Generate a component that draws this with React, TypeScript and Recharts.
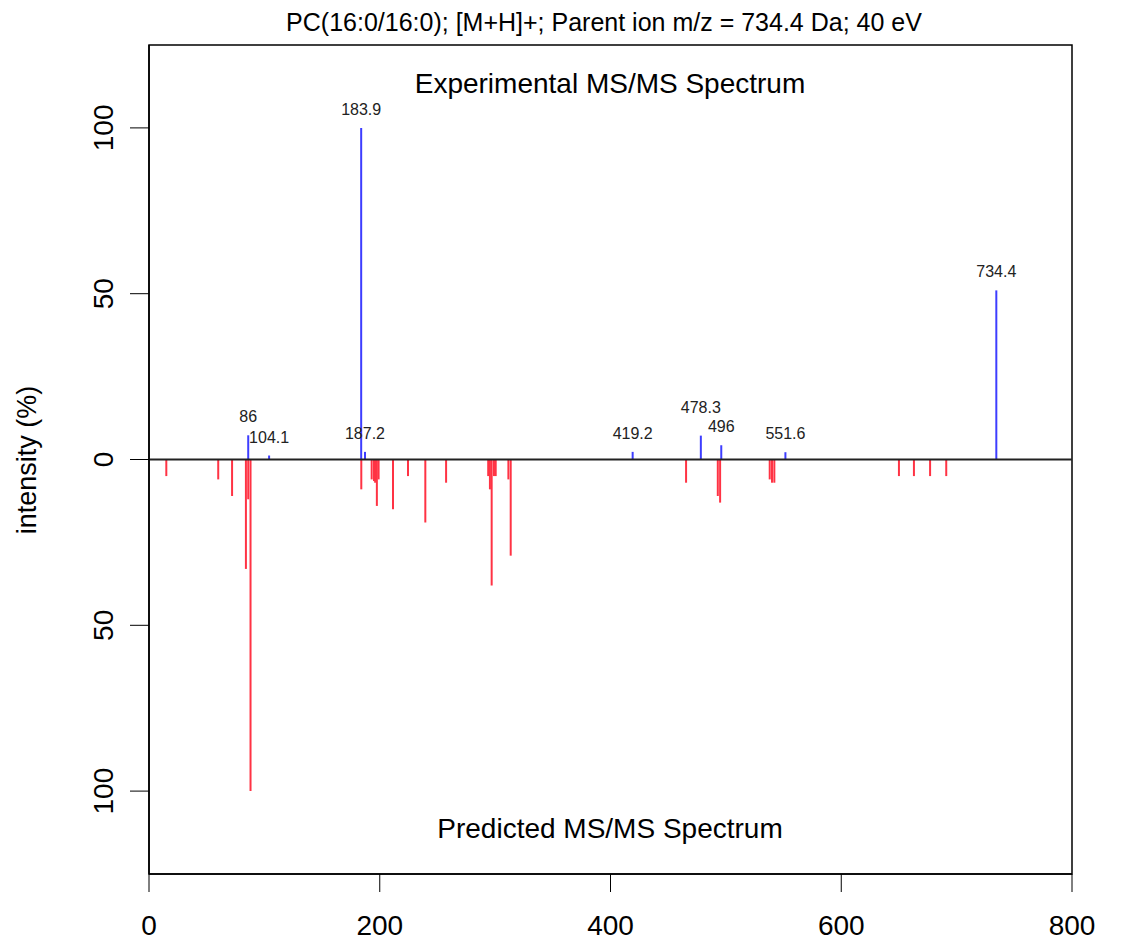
import React from "react";
import {
  ComposedChart, Scatter, ErrorBar, XAxis, YAxis, ReferenceLine, ReferenceArea,
} from "recharts";

// experimental peaks (m/z, relative intensity %)
const expMz = [86, 104.1, 183.9, 187.2, 419.2, 478.3, 496, 551.6, 734.4];
const expInt = [7.3, 1.2, 100, 2.3, 2.3, 7.2, 4.3, 2.2, 51];
const expLabels = ["86", "104.1", "183.9", "187.2", "419.2", "478.3", "496", "551.6", "734.4"];

// predicted peaks, drawn downward
const predMz = [
  15, 60, 72, 84, 86, 88, 184, 193, 195, 196, 197.5, 199, 211.5, 224.5, 239.5, 257.5,
  294, 295.5, 297, 299, 300.5, 311.5, 313.5, 465.5, 493, 495, 538, 540, 542,
  650, 663, 677, 691,
];
const predInt = [
  5, 6, 11, 33, 12, 100, 9, 6, 6.5, 7, 14, 6, 15, 5, 19, 7,
  5, 9, 38, 5, 5, 6, 29, 7, 11, 13, 6, 7, 7,
  5, 5, 5, 5,
];

const xTicks = [0, 200, 400, 600, 800];
const yTicks = [-100, -50, 0, 50, 100];

const title = "PC(16:0/16:0); [M+H]+; Parent ion m/z = 734.4 Da; 40 eV";

const FONT = "'Liberation Sans', Arial, Helvetica, sans-serif";
const BLUE = "#3d3dff";
const RED = "#ff3344";

const W = 1138;
const H = 951;

const expStems = expMz.map((mz, i) => ({ mz, base: 0, err: [0, expInt[i]] }));
const predStems = predMz.map((mz, i) => ({ mz, base: 0, err: [predInt[i], 0] }));

// crude overlap check: a label that sits close to its right neighbour gets lifted
const expTops = expMz.map((mz, i) => {
  const next = i + 1 < expMz.length ? i + 1 : -1;
  const clash =
    next >= 0 &&
    expMz[next] - mz < 30 &&
    Math.abs(expInt[next] - expInt[i]) < 4.8 &&
    expInt[i] >= expInt[next];
  return { mz, top: expInt[i], label: expLabels[i], lift: clash };
});

const Empty = () => <g />;

const PeakLabel = (p: any) => (
  <text
    x={p.cx}
    y={p.cy - 13 - (p.payload.lift ? 10 : 0)}
    textAnchor="middle"
    fontSize={16}
    fill="#222"
    fontFamily={FONT}
  >
    {p.payload.label}
  </text>
);

const YTick = (p: any) => (
  <text
    transform={`translate(${p.x - 17},${p.y}) rotate(-90)`}
    textAnchor="middle"
    fontSize={28}
    fill="#000"
    fontFamily={FONT}
  >
    {Math.abs(p.payload.value)}
  </text>
);

export default function App() {
  return (
    <div style={{ position: "absolute", left: 0, top: 0, width: W, height: H, background: "#fff" }}>
      <ComposedChart width={W} height={H} margin={{ top: 45, right: 66, bottom: 0, left: 0 }}>
        <XAxis
          dataKey="mz"
          type="number"
          domain={[0, 800]}
          ticks={xTicks}
          allowDataOverflow
          height={77}
          tickSize={18}
          tickMargin={23}
          axisLine={{ stroke: "#000", strokeWidth: 1.5 }}
          tickLine={{ stroke: "#000" }}
          tick={{ fontSize: 28, fill: "#000", fontFamily: FONT }}
        />
        <YAxis
          type="number"
          domain={[-125, 125]}
          ticks={yTicks}
          allowDataOverflow
          width={149}
          tickSize={19}
          tickMargin={0}
          axisLine={{ stroke: "#000", strokeWidth: 1.5 }}
          tickLine={{ stroke: "#000" }}
          tick={<YTick />}
        />
        <ReferenceArea x1={0} x2={800} y1={-125} y2={125} fill="none" stroke="#000" strokeWidth={1.5} />
        <Scatter data={predStems} dataKey="base" shape={<Empty />} isAnimationActive={false}>
          <ErrorBar dataKey="err" direction="y" width={0} stroke={RED} strokeWidth={2} isAnimationActive={false} />
        </Scatter>
        <Scatter data={expStems} dataKey="base" shape={<Empty />} isAnimationActive={false}>
          <ErrorBar dataKey="err" direction="y" width={0} stroke={BLUE} strokeWidth={2} isAnimationActive={false} />
        </Scatter>
        <ReferenceLine y={0} stroke="#222" strokeWidth={2} />
        <Scatter data={expTops} dataKey="top" shape={<PeakLabel />} isAnimationActive={false} />
      </ComposedChart>
      <svg
        width={W}
        height={H}
        style={{ position: "absolute", left: 0, top: 0, pointerEvents: "none" }}
        fontFamily={FONT}
      >
        <text x={604} y={31} textAnchor="middle" fontSize={25} fill="#000">{title}</text>
        <text x={610} y={93} textAnchor="middle" fontSize={28} fill="#000">Experimental MS/MS Spectrum</text>
        <text x={610} y={838} textAnchor="middle" fontSize={28} fill="#000">Predicted MS/MS Spectrum</text>
        <text transform="translate(36,460) rotate(-90)" textAnchor="middle" fontSize={27} fill="#000">
          intensity (%)
        </text>
      </svg>
    </div>
  );
}
